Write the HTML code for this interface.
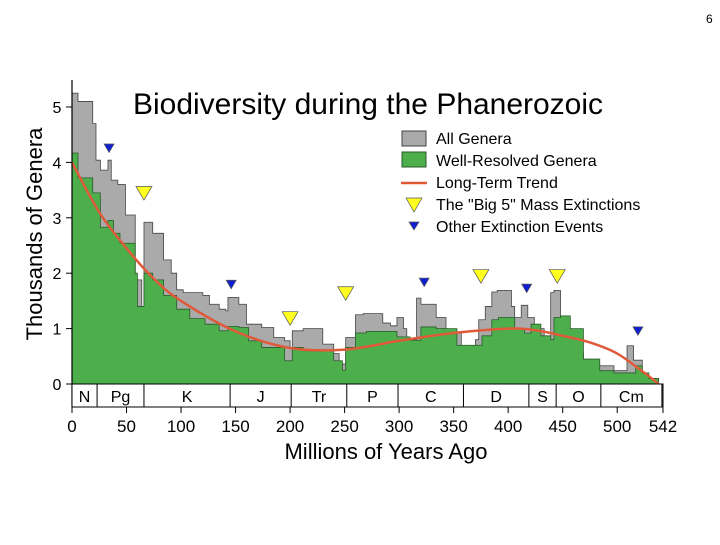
<!DOCTYPE html>
<html><head><meta charset="utf-8"><style>
body{margin:0;background:#fff;font-family:"Liberation Sans",sans-serif}
svg text{font-family:"Liberation Sans",sans-serif}
</style></head><body>
<svg id="c" width="720" height="540" viewBox="0 0 720 540"></svg>
<script>
const allAges=[0,5.5,19,22,26,33,36,42,49,58,64,66,74,84,91,96,102,120,126,135,141,143,153,160,174,185,195,200,202,212,230,240,245,251,260,267,285,292,298,304,307,316,320,334,343,350,357,370,373,379,385,390,403,406,412,418,424,433,439,442,448,457,469,484,497,509,515,523,529,538];
const allVals=[5.25,5.1,4.7,4.04,3.86,4.04,3.68,3.6,3.05,1.88,1.34,2.92,2.72,2.24,2.0,1.7,1.65,1.6,1.44,1.35,1.32,1.56,1.44,1.08,1.02,0.84,0.78,0.65,0.96,1.0,0.72,0.55,0.36,0.84,1.25,1.27,1.1,1.05,1.2,1.0,0.8,1.55,1.44,1.2,0.92,0.92,0.68,0.8,1.16,1.4,1.66,1.69,1.4,1.2,1.42,1.2,1.0,0.75,1.65,1.69,1.0,0.56,0.35,0.33,0.24,0.69,0.43,0.13,0,0];
const wrAges=[0,5.5,19,26,33,38,44,58,60,66,74,84,96,108,122,135,143,153,162,174,195,202,212,230,240,248,251,260,270,298,310,320,334,353,376,385,391,406,415,421,430,439,442,448,457,469,484,497,517,523,529,538];
const wrVals=[4.17,3.72,3.45,2.83,2.95,2.72,2.54,2.0,1.4,2.0,1.88,1.6,1.35,1.18,1.08,0.96,1.04,1.02,0.78,0.66,0.42,0.66,0.6,0.6,0.42,0.25,0.66,0.92,0.95,0.85,0.79,1.03,1.0,0.7,0.87,1.16,1.2,1.0,0.92,1.08,0.87,0.8,1.2,1.23,1.0,0.45,0.24,0.2,0.33,0.2,0.1,0];
const trendAges=[0,25,50,75,100,150,200,250,300,350,400,425,450,475,500,525,538];
const trendVals=[4.0,3.1,2.45,1.9,1.5,0.95,0.65,0.62,0.78,0.92,1.0,0.97,0.87,0.75,0.55,0.2,0];
const bigAges=[66,200,251,375,445];
const bigVals=[3.45,1.19,1.64,1.95,1.95];
const otherAges=[34,146,323,417,519];
const otherVals=[4.26,1.8,1.84,1.73,0.96];
const periodNames=["N","Pg","K","J","Tr","P","C","D","S","O","Cm"];
const periodBounds=[0,23,66,145,201,252,299,359,419,444,485,541];
const xTicks=[0,50,100,150,200,250,300,350,400,450,500,542];
const yTicks=[0,1,2,3,4,5];

const NS="http://www.w3.org/2000/svg";
const svg=document.getElementById('c');
const X=a=>72+a*(591/542);
const Y=v=>384-v*55.4;
function mk(t,at,p){const e=document.createElementNS(NS,t);for(const k in at)e.setAttribute(k,at[k]);(p||svg).appendChild(e);return e;}
function stepPath(ag,vs){let d=`M${X(0)},${Y(0)}`;for(let i=0;i<ag.length;i++){const x0=X(ag[i]);const x1=i<ag.length-1?X(ag[i+1]):X(542);d+=`L${x0},${Y(vs[i])}L${x1},${Y(vs[i])}`;}return d+`L${X(542)},${Y(0)}Z`;}

let e=mk('path',{d:stepPath(allAges,allVals),fill:'#aaaaaa',stroke:'#444',"stroke-width":0.8});

e=mk('path',{d:stepPath(wrAges,wrVals),fill:'#4caf4c',stroke:'#2a5a2a',"stroke-width":0.8});

const P=trendAges.map((a,i)=>[X(a),Y(trendVals[i])]);
let td=`M${P[0][0]},${P[0][1]}`;
for(let i=0;i<P.length-1;i++){const p0=P[Math.max(0,i-1)],p1=P[i],p2=P[i+1],p3=P[Math.min(P.length-1,i+2)];
td+=`C${p1[0]+(p2[0]-p0[0])/6},${p1[1]+(p2[1]-p0[1])/6} ${p2[0]-(p3[0]-p1[0])/6},${p2[1]-(p3[1]-p1[1])/6} ${p2[0]},${p2[1]}`;}
e=mk('path',{d:td,fill:'none',stroke:'#e05a3a',"stroke-width":2.5,"stroke-linejoin":"round"});

function tri(x,y,s,fill){return mk('polygon',{points:`${x-s},${y-s*0.8} ${x+s},${y-s*0.8} ${x},${y+s*0.9}`,fill:fill,stroke:'#555',"stroke-width":0.7});}
bigAges.forEach((a,i)=>{const t=tri(X(a),Y(bigVals[i]),8,'#ffff20');
});
otherAges.forEach((a,i)=>{const t=tri(X(a),Y(otherVals[i]),5,'#1020d0');
});
e=mk('line',{x1:72,y1:80,x2:72,y2:407,stroke:'#000',"stroke-width":1.2});

yTicks.forEach(v=>{mk('line',{x1:66,x2:72,y1:Y(v),y2:Y(v),stroke:'#000'});
const t=mk('text',{x:57,y:Y(v)+6,"font-size":16,"text-anchor":"middle"});t.textContent=v;
});
mk('rect',{x:72,y:384,width:591,height:23,fill:'#fff',stroke:'#000',"stroke-width":1});
periodBounds.forEach(b=>mk('line',{x1:X(b),x2:X(b),y1:384,y2:407,stroke:'#000'}));
periodNames.forEach((n,i)=>{const t=mk('text',{x:(X(periodBounds[i])+X(periodBounds[i+1]))/2,y:402,"font-size":16,"text-anchor":"middle"});t.textContent=n;
});
xTicks.forEach(v=>{mk('line',{x1:X(v),x2:X(v),y1:407,y2:413,stroke:'#000'});
const t=mk('text',{x:X(v),y:432,"font-size":17,"text-anchor":"middle"});t.textContent=v;
});
e=mk('text',{x:386,y:459,"font-size":22,"text-anchor":"middle"});e.textContent='Millions of Years Ago';

e=mk('text',{x:0,y:0,"font-size":22,"text-anchor":"middle",transform:'translate(42,234) rotate(-90)'});e.textContent='Thousands of Genera';

e=mk('text',{x:133,y:114,"font-size":30,textLength:470,lengthAdjust:'spacingAndGlyphs'});e.textContent='Biodiversity during the Phanerozoic';

e=mk('text',{x:706,y:23,"font-size":12});e.textContent='6';

const lg=mk('g',{});
mk('rect',{x:402,y:131,width:24,height:15,fill:'#aaaaaa',stroke:'#444'},lg);
mk('rect',{x:402,y:152,width:24,height:15,fill:'#4caf4c',stroke:'#2a5a2a'},lg);
mk('line',{x1:401,x2:427,y1:183,y2:183,stroke:'#e05a3a',"stroke-width":2.5},lg);
mk('polygon',{points:'406,198 422,198 414,212',fill:'#ffff20',stroke:'#555',"stroke-width":0.7},lg);
mk('polygon',{points:'409,222 419,222 414,230',fill:'#1020d0',stroke:'#555',"stroke-width":0.7},lg);
['All Genera','Well-Resolved Genera','Long-Term Trend','The "Big 5" Mass Extinctions','Other Extinction Events'].forEach((s,i)=>{
const t=mk('text',{x:436,y:144+i*22,"font-size":16},lg);t.textContent=s;
});
</script>
</body></html>
